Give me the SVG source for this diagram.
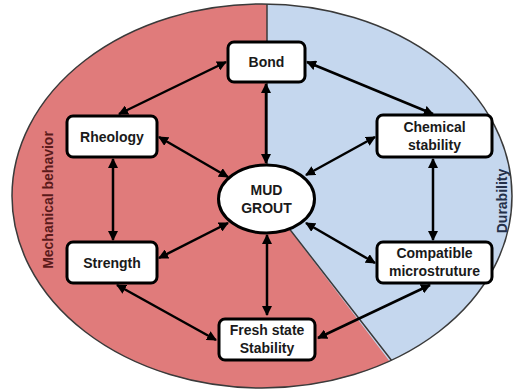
<svg xmlns="http://www.w3.org/2000/svg" width="513" height="390" viewBox="0 0 513 390">
<style>
.box{fill:#fff;stroke:#000;stroke-width:3}
.lbl{font-family:"Liberation Sans",Arial,sans-serif;font-weight:bold;font-size:14px;fill:#1a1a1a;text-anchor:middle}
.con{stroke:#000;stroke-width:2.5;fill:none;marker-start:url(#ah);marker-end:url(#ah)}
.side{font-family:"Liberation Sans",Arial,sans-serif;font-weight:bold;font-size:14px;text-anchor:middle}
</style>
<defs>
<marker id="ah" viewBox="0 0 10 10" refX="9" refY="5" markerWidth="4" markerHeight="4" orient="auto-start-reverse" markerUnits="strokeWidth">
<path d="M0,0 L10,5 L0,10 z" fill="#000"/>
</marker>
<clipPath id="ell"><ellipse cx="262" cy="196" rx="250" ry="192"/></clipPath>
</defs>
<rect width="513" height="390" fill="#fff"/>
<g id="background">
<ellipse cx="262" cy="196" rx="250" ry="192" fill="#c5d7ee"/>
<path d="M267,0 L267,200 L400,375 L400,400 L0,400 L0,0 Z" fill="#e07b7b" clip-path="url(#ell)"/>
<path d="M267,4 L267,200 L392,361" fill="none" stroke="#3a3a3a" stroke-width="1.5" clip-path="url(#ell)"/>
<ellipse cx="262" cy="196" rx="250" ry="192" fill="none" stroke="#3a3a3a" stroke-width="1.5"/>
<text class="side" fill="#5a1a1a" transform="translate(53,200) rotate(-90)">Mechanical behavior</text>
<text class="side" fill="#243049" transform="translate(507,201) rotate(-90)">Durability</text>
</g>
<g id="connectors">
<line class="con" x1="226" y1="62" x2="119" y2="114"/>
<line class="con" x1="307" y1="62" x2="433" y2="114"/>
<line class="con" x1="266" y1="84" x2="266" y2="163"/>
<line class="con" x1="159" y1="137" x2="228" y2="177"/>
<line class="con" x1="375" y1="137" x2="306" y2="175"/>
<line class="con" x1="113" y1="159" x2="113" y2="240"/>
<line class="con" x1="433" y1="159" x2="433" y2="240"/>
<line class="con" x1="159" y1="258" x2="228" y2="223"/>
<line class="con" x1="375" y1="263" x2="306" y2="223"/>
<line class="con" x1="267" y1="235" x2="267" y2="315"/>
<line class="con" x1="117" y1="285" x2="216" y2="340"/>
<line class="con" x1="430" y1="285" x2="318" y2="338"/>
</g>
<g id="bond"><rect class="box" x="228" y="42" width="77" height="40" rx="6"/><text class="lbl" x="266.5" y="67">Bond</text></g>
<g id="rheology"><rect class="box" x="67" y="116" width="90" height="41" rx="6"/><text class="lbl" x="112" y="141.5">Rheology</text></g>
<g id="chemical"><rect class="box" x="377" y="115" width="115" height="42" rx="6"/><text class="lbl" x="434.5" y="132">Chemical</text><text class="lbl" x="434.5" y="150">stability</text></g>
<g id="strength"><rect class="box" x="67" y="242" width="90" height="41" rx="6"/><text class="lbl" x="112" y="267.5">Strength</text></g>
<g id="compatible"><rect class="box" x="377" y="242" width="115" height="41" rx="6"/><text class="lbl" x="434.5" y="258">Compatible</text><text class="lbl" x="434.5" y="276">microstruture</text></g>
<g id="fresh"><rect class="box" x="219" y="319" width="96" height="41" rx="6"/><text class="lbl" x="267" y="335">Fresh state</text><text class="lbl" x="267" y="353">Stability</text></g>
<g id="mud"><ellipse class="box" cx="266.5" cy="199" rx="48" ry="34"/><text class="lbl" x="266.5" y="195">MUD</text><text class="lbl" x="266.5" y="213">GROUT</text></g>
</svg>
